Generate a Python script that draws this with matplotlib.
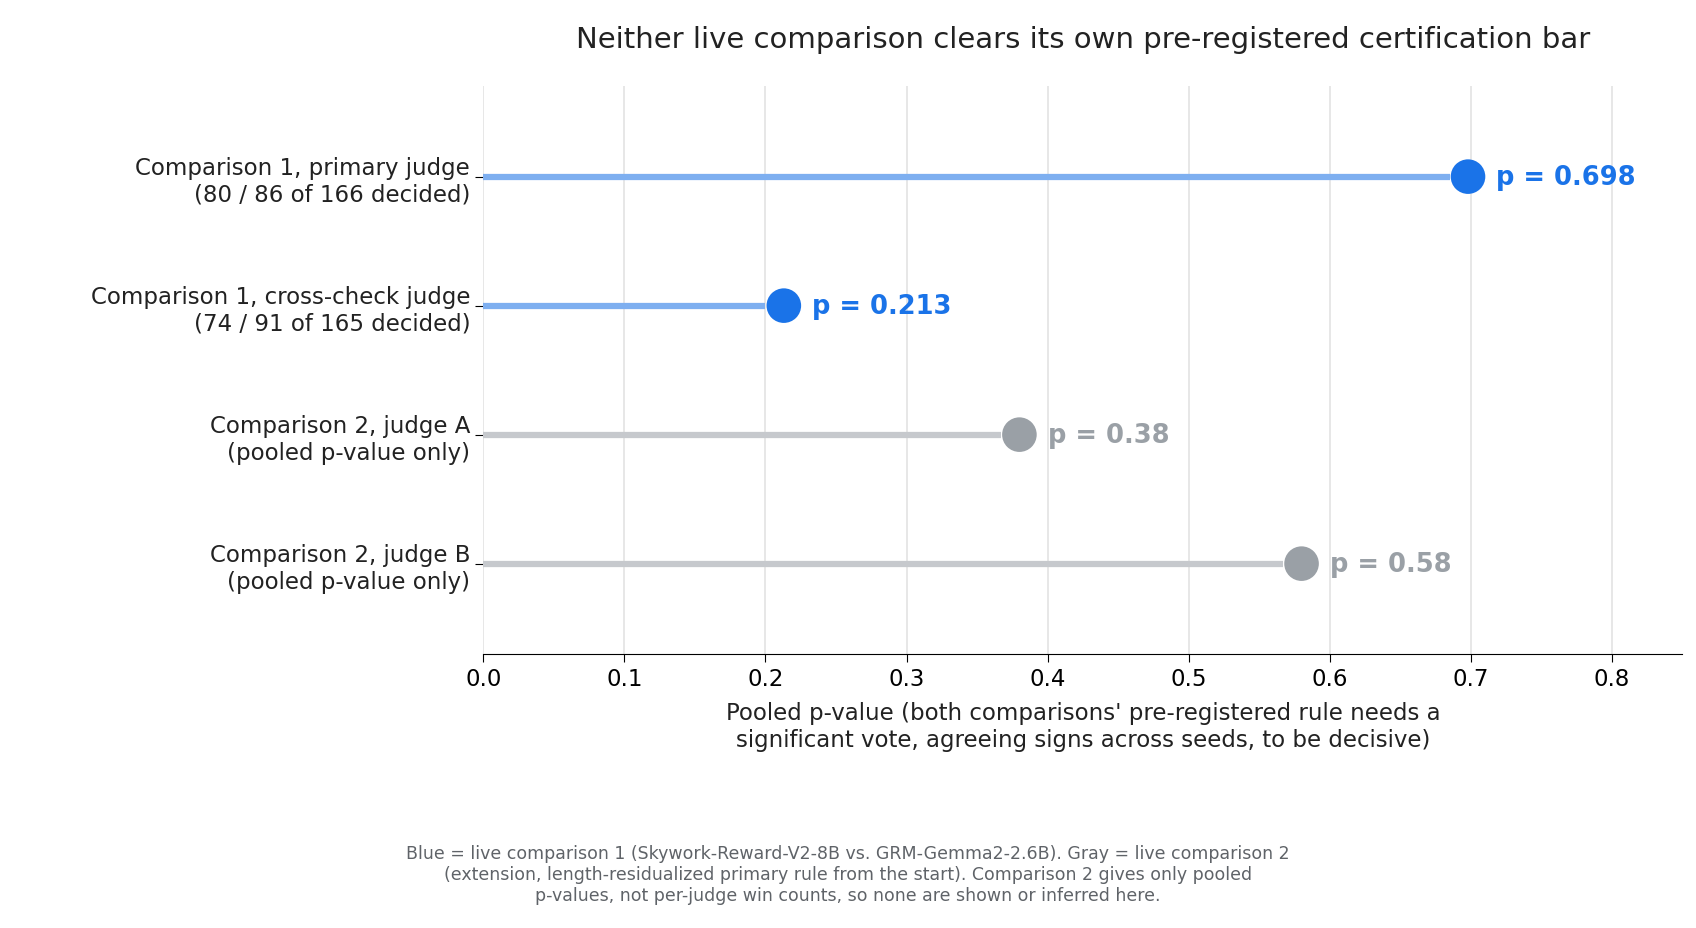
import numpy as np
import matplotlib.pyplot as plt

labels = ["Comparison 1, primary judge\n(80 / 86 of 166 decided)",
          "Comparison 1, cross-check judge\n(74 / 91 of 165 decided)",
          "Comparison 2, judge A\n(pooled p-value only)",
          "Comparison 2, judge B\n(pooled p-value only)"]
pvals = [0.698, 0.213, 0.38, 0.58]
ptext = ["p = 0.698", "p = 0.213", "p = 0.38", "p = 0.58"]
group = [1, 1, 2, 2]

dark = {1: "#1a73e8", 2: "#9aa0a6"}
light = {1: "#7eaff0", 2: "#c6c9cd"}

fig = plt.figure(figsize=(16.96, 9.29), dpi=100)
ax = fig.add_axes([0.285, 0.295, 0.707, 0.611])
y = np.arange(len(labels))
for yi, p, t, g in zip(y, pvals, ptext, group):
    ax.plot([0, p - 0.013], [yi, yi], color=light[g], lw=4.5, solid_capstyle="butt", zorder=2)
    ax.scatter([p], [yi], s=620, color=dark[g], zorder=3, edgecolors="none")
    ax.text(p + 0.02, yi, t, color=dark[g], fontsize=18.5, fontweight="bold", va="center", ha="left")

ax.set_yticks(y)
ax.set_yticklabels(labels, fontsize=16.5, color="#222222")
ax.set_ylim(3.7, -0.7)
ax.set_xlim(0, 0.85)
ax.set_xticks(np.arange(0, 0.81, 0.1))
ax.set_xticklabels([f"{v:.1f}" for v in np.arange(0, 0.81, 0.1)], fontsize=16.5)
ax.grid(axis="x", color="#e3e3e3", lw=1.2, zorder=0)
ax.set_axisbelow(True)
for s in ["top", "right", "left"]:
    ax.spines[s].set_visible(False)
ax.tick_params(axis="y", length=6)
ax.tick_params(axis="x", length=6)
ax.set_xlabel("Pooled p-value (both comparisons' pre-registered rule needs a\n"
              "significant vote, agreeing signs across seeds, to be decisive)",
              fontsize=16.5, color="#222222", labelpad=8)
ax.set_title("Neither live comparison clears its own pre-registered certification bar",
             fontsize=21, color="#222222", pad=28)

fig.text(0.5, 0.058, "Blue = live comparison 1 (Skywork-Reward-V2-8B vs. GRM-Gemma2-2.6B). Gray = live comparison 2\n"
         "(extension, length-residualized primary rule from the start). Comparison 2 gives only pooled\n"
         "p-values, not per-judge win counts, so none are shown or inferred here.",
         ha="center", va="center", fontsize=12.5, color="#5f6368")

fig.savefig("out.png", dpi=100)
